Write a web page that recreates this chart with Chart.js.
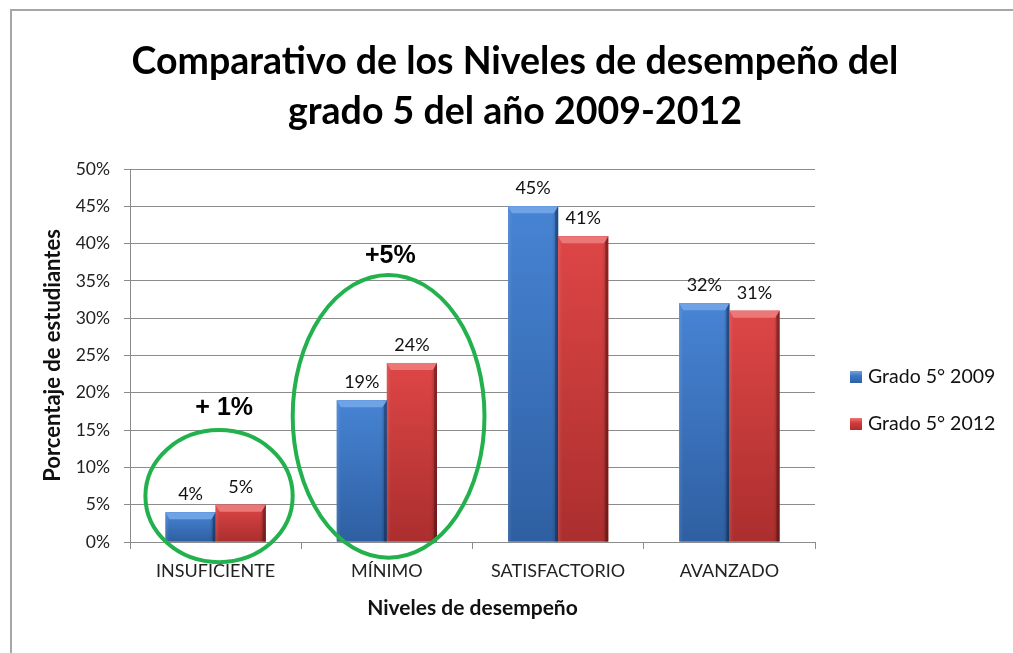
<!DOCTYPE html>
<html>
<head>
<meta charset="utf-8">
<script src="https://cdn.jsdelivr.net/npm/chart.js@4.4.1/dist/chart.umd.min.js"></script>
<style>
  html, body { margin: 0; padding: 0; background: #fff; }
  #wrap { position: relative; width: 1013px; height: 653px; overflow: hidden; background: #fff; }
  #frame { position: absolute; left: 10px; top: 9px; width: 1100px; height: 700px; border: 2px solid #a6a6a6; box-sizing: border-box; }
  #title { position: absolute; left: 0; width: 1030px; top: 35px; text-align: center; font-family: Lato, sans-serif; font-weight: bold; font-size: 37.5px; line-height: 50px; color: #000; }
  #legend { position: absolute; left: 850px; top: 364px; font-family: Lato, sans-serif; font-size: 19.5px; color: #111; }
  .li { height: 47px; display: flex; align-items: flex-start; }
  .sw { width: 12px; height: 12px; margin-top: 7px; margin-right: 6px; }
  canvas { position: absolute; left: 0; top: 0; }
</style>
</head>
<body>
<div id="wrap">
  <div id="frame"></div>
  <canvas id="c" width="1013" height="653"></canvas>
  <div id="title">Comparativo de los Niveles de desempeño del<br>grado 5 del año 2009-2012</div>
  <div id="legend"></div>
</div>
<script>
const categories = ['INSUFICIENTE', 'MÍNIMO', 'SATISFACTORIO', 'AVANZADO'];
const seriesNames = ['Grado 5° 2009', 'Grado 5° 2012'];
const grado2009 = [4, 19, 45, 32];
const grado2012 = [5, 24, 41, 31];
const yMin = 0, yMax = 50, yStep = 5;
const xTitle = 'Niveles de desempeño';
const yTitle = 'Porcentaje de estudiantes';
// annotation: [text, category index, category offset, value]
const noteTexts = ['+ 1%', '+5%'];
const noteCats = [0, 1];
const noteOffsets = [0.05, 0.02];
const noteValues = [18, 38.3];
// ellipses: category index, offset, half width (category units), top value, bottom value
const ellCats = [0, 1];
const ellOffsets = [0.02, 0.01];
const ellHalfW = [0.43, 0.56];
const ellTop = [15.0, 35.8];
const ellBottom = [-2.7, -2.1];

const palettes = [
  { base: '#3b77c5', top: '#4784d4', bottom: '#2e5fa2', bevel: '#6fa3e6', dark: 'rgba(10,30,70,0.35)' },
  { base: '#d33c3c', top: '#de4646', bottom: '#ab2e2e', bevel: '#ec7777', dark: 'rgba(70,10,10,0.35)' }
];

const FONT = 'Lato, sans-serif';

// legend (HTML)
const lg = document.getElementById('legend');
seriesNames.forEach((n, i) => {
  const d = document.createElement('div'); d.className = 'li';
  const s = document.createElement('div'); s.className = 'sw';
  s.style.background = 'linear-gradient(' + palettes[i].bevel + ',' + palettes[i].base + ' 40%,' + palettes[i].bottom + ')';
  const t = document.createElement('span'); t.textContent = n;
  d.appendChild(s); d.appendChild(t); lg.appendChild(d);
});

const bar3d = {
  id: 'bar3d',
  afterDatasetsDraw(chart) {
    const ctx = chart.ctx;
    chart.data.datasets.forEach((ds, i) => {
      const meta = chart.getDatasetMeta(i);
      const pal = palettes[i];
      meta.data.forEach(bar => {
        const p = bar.getProps(['x', 'y', 'base', 'width'], true);
        const l = p.x - p.width / 2, r = p.x + p.width / 2, t = p.y, b = p.base;
        ctx.save();
        const g = ctx.createLinearGradient(0, t, 0, b);
        g.addColorStop(0, pal.top); g.addColorStop(1, pal.bottom);
        ctx.fillStyle = g; ctx.fillRect(l, t, r - l, b - t);
        const h = ctx.createLinearGradient(l, 0, r, 0);
        h.addColorStop(0, 'rgba(255,255,255,0.10)');
        h.addColorStop(0.08, 'rgba(255,255,255,0)');
        h.addColorStop(0.88, 'rgba(0,0,0,0)');
        h.addColorStop(1, 'rgba(0,0,0,0.28)');
        ctx.fillStyle = h; ctx.fillRect(l, t, r - l, b - t);
        const bv = Math.min(7, (b - t) / 2);
        ctx.beginPath();
        ctx.moveTo(l, t); ctx.lineTo(r, t); ctx.lineTo(r - 4, t + bv); ctx.lineTo(l + 4, t + bv); ctx.closePath();
        ctx.fillStyle = pal.bevel; ctx.fill();
        ctx.beginPath();
        ctx.moveTo(r, t); ctx.lineTo(r, b); ctx.lineTo(r - 3, b); ctx.lineTo(r - 3, t + bv); ctx.lineTo(r - 4, t + bv); ctx.closePath();
        ctx.fillStyle = pal.dark; ctx.fill();
        ctx.restore();
      });
    });
  }
};

const labelsPlugin = {
  id: 'vals',
  afterDatasetsDraw(chart) {
    const ctx = chart.ctx;
    ctx.save();
    ctx.font = '18px ' + FONT;
    ctx.fillStyle = '#111';
    ctx.textAlign = 'center';
    ctx.textBaseline = 'bottom';
    chart.data.datasets.forEach((ds, i) => {
      chart.getDatasetMeta(i).data.forEach((bar, j) => {
        ctx.fillText(ds.data[j] + '%', bar.x, bar.y - 9);
      });
    });
    ctx.restore();
  }
};

const notesPlugin = {
  id: 'notes',
  afterDraw(chart) {
    const ctx = chart.ctx;
    const xs = chart.scales.x, ys = chart.scales.y;
    const catW = xs.getPixelForValue(1) - xs.getPixelForValue(0);
    ctx.save();
    ctx.strokeStyle = '#22b14c';
    ctx.lineWidth = 4;
    ellCats.forEach((c, k) => {
      const cx = xs.getPixelForValue(c) + ellOffsets[k] * catW;
      const ty = ys.getPixelForValue(ellTop[k]);
      const by = ys.getPixelForValue(ellBottom[k]);
      ctx.beginPath();
      ctx.ellipse(cx, (ty + by) / 2, ellHalfW[k] * catW, (by - ty) / 2, 0, 0, Math.PI * 2);
      ctx.stroke();
    });
    ctx.font = 'bold 25px "Liberation Sans", Arial, sans-serif';
    ctx.fillStyle = '#000';
    ctx.textAlign = 'center';
    ctx.textBaseline = 'middle';
    noteTexts.forEach((t, k) => {
      const cx = xs.getPixelForValue(noteCats[k]) + noteOffsets[k] * catW;
      ctx.fillText(t, cx, ys.getPixelForValue(noteValues[k]));
    });
    ctx.restore();
  }
};

new Chart(document.getElementById('c'), {
  type: 'bar',
  data: {
    labels: categories,
    datasets: [
      { label: seriesNames[0], data: grado2009, backgroundColor: palettes[0].base, barPercentage: 1.0, categoryPercentage: 0.585 },
      { label: seriesNames[1], data: grado2012, backgroundColor: palettes[1].base, barPercentage: 1.0, categoryPercentage: 0.585 }
    ]
  },
  options: {
    responsive: false,
    animation: false,
    layout: { padding: { left: 40, right: 198, top: 169, bottom: 0 } },
    plugins: { legend: { display: false }, title: { display: false }, tooltip: { enabled: false } },
    scales: {
      x: {
        offset: true,
        grid: { display: true, drawOnChartArea: false, offset: true, tickLength: 7, color: '#8c8c8c', lineWidth: 1 },
        border: { display: true, color: '#8c8c8c', width: 1 },
        ticks: { font: { family: FONT, size: 18 }, color: '#222', padding: 11, maxRotation: 0, autoSkip: false },
        title: { display: true, text: xTitle, font: { family: FONT, size: 21, weight: 'bold' }, color: '#111', padding: { top: 0, bottom: 32 } },
        afterFit(s) { s.height = 111; }
      },
      y: {
        min: yMin, max: yMax,
        grid: { color: '#8c8c8c', lineWidth: 1, tickLength: 6 },
        border: { display: true, color: '#8c8c8c', width: 1 },
        ticks: { stepSize: yStep, font: { family: FONT, size: 17.5 }, color: '#222', padding: 14, callback: v => v + '%' },
        title: { display: true, text: yTitle, font: { family: FONT, size: 22, weight: 'bold' }, color: '#111', padding: { top: 0, bottom: 0 } },
        afterFit(s) { s.width = 90; }
      }
    }
  },
  plugins: [bar3d, labelsPlugin, notesPlugin]
});
</script>
</body>
</html>
